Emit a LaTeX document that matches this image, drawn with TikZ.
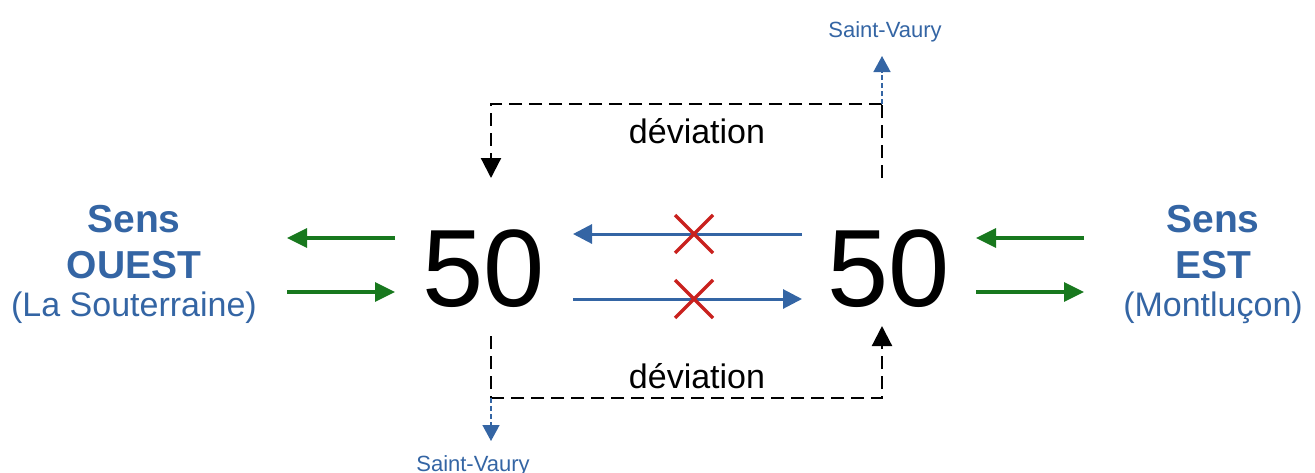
\documentclass[tikz,border=0pt]{standalone}
\usepackage{fontspec}
\setmainfont{Liberation Sans}
\usetikzlibrary{arrows.meta}
\definecolor{sensblue}{RGB}{52,101,164}
\definecolor{arrblue}{RGB}{52,101,164}
\definecolor{arrgreen}{RGB}{24,120,30}
\definecolor{xred}{RGB}{201,33,30}
\tikzset{
  x=1pt, y=-1pt,
  bignum/.style={inner sep=0pt, anchor=base, font=\fontsize{110}{110}\selectfont},
  senstitle/.style={inner sep=0pt, anchor=base, text=sensblue, font=\fontsize{39}{39}\selectfont\bfseries},
  senssub/.style={inner sep=0pt, anchor=base, text=sensblue, font=\fontsize{34}{34}\selectfont},
  devlabel/.style={inner sep=0pt, anchor=base, font=\fontsize{34}{34}\selectfont},
  placelabel/.style={inner sep=0pt, anchor=base, text=sensblue, font=\fontsize{22}{22}\selectfont},
  greenarrow/.style={draw=arrgreen, line width=3.2pt, -{Triangle[length=20pt,width=19pt]}},
  bluearrow/.style={draw=arrblue, line width=3pt, -{Triangle[length=19pt,width=19pt]}},
  detour/.style={draw=black, line width=2.2pt, dash pattern=on 13pt off 7pt},
  detourarrow/.style={detour, -{Triangle[length=20pt,width=20pt]}},
  exitarrow/.style={draw=arrblue, line width=1.5pt, dash pattern=on 5pt off 3pt, -{Triangle[length=16pt,width=17pt]}},
  crossline/.style={draw=xred, line width=3.4pt},
}
\begin{document}
\begin{tikzpicture}
\useasboundingbox (0,0) rectangle (1315,472);
% big numbers
\node[bignum] (n50w) at (484,306) {50};
\node[bignum] (n50e) at (889,306) {50};
% side labels
\node[senstitle] (sensW) at (134,232) {Sens};
\node[senstitle] (ouest) at (134,278) {OUEST};
\node[senssub] (souter) at (134,316) {(La Souterraine)};
\node[senstitle] (sensE) at (1213,232) {Sens};
\node[senstitle] (est) at (1213,278) {EST};
\node[senssub] (montl) at (1213,316) {(Montluçon)};
% deviation labels
\node[devlabel] (devTop) at (697,143) {déviation};
\node[devlabel] (devBot) at (697,388) {déviation};
\node[placelabel] (svTop) at (885,37) {Saint-Vaury};
\node[placelabel] (svBot) at (473,471) {Saint-Vaury};
% green arrows (left)
\coordinate (gwA) at (395,238); \coordinate (gwB) at (287,238);
\coordinate (gwC) at (287,292); \coordinate (gwD) at (395,292);
\draw[greenarrow] (gwA) -- (gwB);
\draw[greenarrow] (gwC) -- (gwD);
% green arrows (right)
\coordinate (geA) at (1084,238); \coordinate (geB) at (976,238);
\coordinate (geC) at (976,292); \coordinate (geD) at (1084,292);
\draw[greenarrow] (geA) -- (geB);
\draw[greenarrow] (geC) -- (geD);
% blue arrows between
\coordinate (bA) at (802,234); \coordinate (bB) at (573,234);
\coordinate (bC) at (573,299); \coordinate (bD) at (802,299);
\draw[bluearrow] (bA) -- (bB);
\draw[bluearrow] (bC) -- (bD);
% red crosses
\coordinate (x1a) at (675,215); \coordinate (x1b) at (713,253);
\coordinate (x1c) at (675,253); \coordinate (x1d) at (713,215);
\draw[crossline] (x1a) -- (x1b); \draw[crossline] (x1c) -- (x1d);
\coordinate (x2a) at (675,280); \coordinate (x2b) at (713,318);
\coordinate (x2c) at (675,318); \coordinate (x2d) at (713,280);
\draw[crossline] (x2a) -- (x2b); \draw[crossline] (x2c) -- (x2d);
% top detour
\coordinate (tStart) at (882,178);
\coordinate (tCorner) at (882,104);
\coordinate (tLeft) at (491,104);
\coordinate (tEnd) at (491,178);
\coordinate (tExit) at (882,56);
\draw[detour] (tStart) -- (tCorner);
\draw[detourarrow] (tCorner) -- (tLeft) -- (tEnd);
\draw[exitarrow] (tCorner) -- (tExit);
% bottom detour
\coordinate (bStart) at (491,336);
\coordinate (bCorner) at (491,398);
\coordinate (bRight) at (882,398);
\coordinate (bEnd) at (882,326);
\coordinate (bExit) at (491,441);
\draw[detour] (bStart) -- (bCorner);
\draw[detourarrow] (bCorner) -- (bRight) -- (bEnd);
\draw[exitarrow] (bCorner) -- (bExit);
\end{tikzpicture}
\end{document}
